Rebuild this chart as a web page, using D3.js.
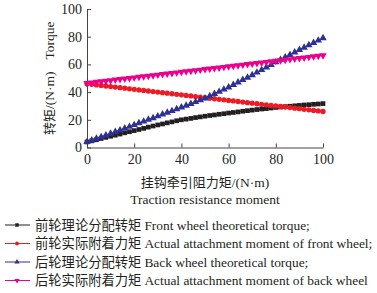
<!DOCTYPE html>
<html>
<head>
<meta charset="utf-8">
<script src="https://cdn.jsdelivr.net/npm/d3@7"></script>
<style>
  body { margin: 0; background: #fff; }
  svg text { font-family: "Liberation Serif", "Times New Roman", "Noto Sans CJK SC", serif; fill: #231f20; }
  .cjk { font-family: "Noto Sans CJK SC", sans-serif; }
</style>
</head>
<body>
<svg id="chart" width="377" height="293"></svg>
<script>
// traction resistance moment (N·m)
const xValues = [0,2,4,6,8,10,12,14,16,18,20,22,24,26,28,30,32,34,36,38,40,42,44,46,48,50,
  52,54,56,58,60,62,64,66,68,70,72,74,76,78,80,82,84,86,88,90,92,94,96,98,100];

const frontTheory = [4.0,4.8,5.6,6.5,7.3,8.1,8.9,9.7,10.6,11.4,12.2,
  13.0,13.8,14.7,15.5,16.3,17.0,17.8,18.5,19.3,20.0,
  20.5,21.0,21.6,22.1,22.6,23.1,23.5,24.0,24.4,24.9,
  25.3,25.7,26.2,26.6,27.0,27.4,27.8,28.1,28.5,28.9,
  29.2,29.5,29.8,30.1,30.4,30.7,30.9,31.2,31.4,31.7];

const frontActual = [46.0,45.6,45.2,44.8,44.4,44.0,43.6,43.2,42.8,42.4,42.0,
  41.6,41.2,40.8,40.4,40.0,39.6,39.2,38.8,38.4,38.0,
  37.6,37.2,36.8,36.4,36.0,35.6,35.2,34.8,34.4,34.0,
  33.6,33.2,32.8,32.4,32.0,31.6,31.2,30.8,30.4,30.0,
  29.6,29.2,28.8,28.4,28.0,27.6,27.2,26.8,26.4,26.0];

const backTheory = [4.0,5.2,6.4,7.6,8.8,10.0,11.3,12.5,13.8,15.0,16.3,
  17.6,18.8,20.1,21.3,22.6,23.9,25.2,26.4,27.7,29.0,
  30.3,31.6,32.9,34.2,35.5,37.1,38.7,40.3,41.9,43.5,
  45.3,47.0,48.8,50.5,52.3,54.2,56.0,57.9,59.7,61.6,
  63.4,65.2,66.9,68.7,70.5,72.2,73.9,75.6,77.3,79.0];

const backActual = [46.5,46.9,47.3,47.7,48.1,48.5,48.9,49.3,49.7,50.1,50.5,
  50.9,51.3,51.7,52.1,52.5,52.9,53.3,53.7,54.1,54.5,
  54.9,55.3,55.7,56.1,56.5,56.9,57.3,57.7,58.1,58.5,
  58.9,59.3,59.7,60.1,60.5,60.9,61.3,61.7,62.1,62.5,
  62.9,63.3,63.7,64.1,64.5,64.9,65.3,65.7,66.1,66.5];

const tickValues = [0,20,40,60,80,100];

const seriesCn = ["前轮理论分配转矩", "前轮实际附着力矩", "后轮理论分配转矩", "后轮实际附着力矩"];
const seriesEn = [
  "Front wheel theoretical torque;",
  "Actual attachment moment of front wheel;",
  "Back wheel theoretical torque;",
  "Actual attachment moment of back wheel"
];

const series = [
  {values: frontTheory, color: "#231f20", symbol: d3.symbolSquare, size: 22, rot: 0},
  {values: frontActual, color: "#ec1c24", symbol: d3.symbolCircle, size: 22, rot: 0},
  {values: backTheory, color: "#2e3192", symbol: d3.symbolTriangle, size: 24, rot: 0},
  {values: backActual, color: "#ec008c", symbol: d3.symbolTriangle, size: 24, rot: 180}
];

const serif = "\"Liberation Serif\", \"Times New Roman\", serif";
const svg = d3.select("#chart");
const x = d3.scaleLinear().domain([0, 100]).range([87, 323]);
const y = d3.scaleLinear().domain([0, 100]).range([147.5, 9]);

// axes, ticks pointing inward
svg.append("g")
    .attr("transform", `translate(0,${y(0)})`)
    .call(d3.axisBottom(x).tickValues(tickValues).tickSizeInner(-4).tickSizeOuter(0).tickPadding(7))
    .call(g => g.attr("font-family", serif).attr("font-size", 14))
    .call(g => g.selectAll("line,path").attr("stroke", "#444"));

svg.append("g")
    .attr("transform", `translate(${x(0)},0)`)
    .call(d3.axisLeft(y).tickValues(tickValues).tickSizeInner(-4).tickSizeOuter(0).tickPadding(5))
    .call(g => g.attr("font-family", serif).attr("font-size", 14))
    .call(g => g.selectAll("line,path").attr("stroke", "#444"));

// lines + markers
const line = d3.line().x((d, i) => x(xValues[i])).y(d => y(d));

series.forEach(s => {
    svg.append("path")
        .datum(s.values)
        .attr("fill", "none")
        .attr("stroke", s.color)
        .attr("stroke-width", 1)
        .attr("d", line);

    svg.append("g").selectAll("path")
        .data(s.values)
        .join("path")
        .attr("d", d3.symbol().type(s.symbol).size(s.size))
        .attr("transform", (d, i) => `translate(${x(xValues[i])},${y(d)}) rotate(${s.rot})`)
        .attr("fill", s.color);
});

// axis titles
const xt = svg.append("text")
    .attr("x", 205).attr("y", 187)
    .attr("text-anchor", "middle");
xt.append("tspan").attr("class", "cjk").attr("font-size", 13).text("挂钩牵引阻力矩");
xt.append("tspan").attr("font-size", 13.5).text("/(N·m)");

svg.append("text")
    .attr("x", 205).attr("y", 204)
    .attr("text-anchor", "middle")
    .attr("font-size", 13.5)
    .text("Traction resistance moment");

const yt = svg.append("text")
    .attr("transform", `translate(54,${(y(0) + y(100)) / 2}) rotate(-90)`)
    .attr("text-anchor", "middle");
yt.append("tspan").attr("class", "cjk").attr("font-size", 13).text("转矩");
yt.append("tspan").attr("font-size", 13.5).text("/(N·m)");
yt.append("tspan").attr("font-size", 13.5).attr("dx", 12).text("Torque");

// legend
const legend = svg.append("g").selectAll("g")
    .data(series)
    .join("g")
    .attr("transform", (d, i) => `translate(0,${225 + i * 18.5})`);

legend.append("line")
    .attr("x1", 5).attr("x2", 30)
    .attr("stroke", d => d.color)
    .attr("stroke-width", 1);

legend.append("path")
    .attr("d", d => d3.symbol().type(d.symbol).size(12)())
    .attr("transform", d => `translate(17,0) rotate(${d.rot})`)
    .attr("fill", d => d.color);

const lt = legend.append("text")
    .attr("x", 35).attr("y", 4.5);
lt.append("tspan").attr("class", "cjk").attr("font-size", 13.3).text((d, i) => seriesCn[i]);
lt.append("tspan").attr("font-size", 13.4).attr("dx", 3).text((d, i) => seriesEn[i]);
</script>
</body>
</html>
